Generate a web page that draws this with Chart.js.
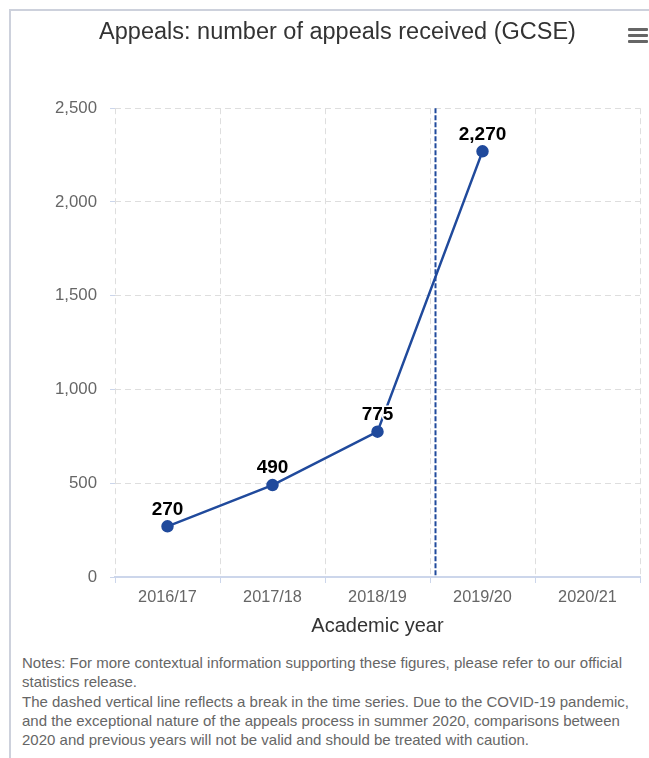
<!DOCTYPE html>
<html>
<head>
<meta charset="utf-8">
<script src="https://cdn.jsdelivr.net/npm/chart.js@4.4.1/dist/chart.umd.min.js"></script>
<style>
  body { margin: 0; background: #fff; font-family: "Liberation Sans", Arial, sans-serif; }
  #frame { position: absolute; left: 9px; top: 9px; width: 660px; height: 760px;
           border-top: 2px solid #cdd1dc; border-left: 2px solid #cdd1dc; }
  #wrap { position: absolute; left: 0; top: 0; width: 649px; height: 650px; }
  #menu { position: absolute; left: 628px; top: 28px; width: 20px; }
  #menu div { height: 3px; background: #666; margin-bottom: 3px; border-radius: 1px; }
  #notes { position: absolute; left: 22px; top: 653px; width: 625px;
           font-size: 15px; line-height: 19.3px; color: #666; }
</style>
</head>
<body>
<div id="frame"></div>
<div id="wrap"><canvas id="chart"></canvas></div>
<div id="menu"><div></div><div></div><div></div></div>
<div id="notes">Notes: For more contextual information supporting these figures, please refer to our official statistics release.<br>The dashed vertical line reflects a break in the time series. Due to the COVID-19 pandemic, and the exceptional nature of the appeals process in summer 2020, comparisons between 2020 and previous years will not be valid and should be treated with caution.</div>
<script>
// data
const years = ["2016/17", "2017/18", "2018/19", "2019/20", "2020/21"];
const appeals = [270, 490, 775, 2270, null];
const yTicks = [0, 500, 1000, 1500, 2000, 2500];
const breakAt = 2.55; // position of the break line, in category units

const lineColor = "#204a9c";
const fam = "'Liberation Sans', Arial, sans-serif";

// labels above points + the dashed break line
const extras = {
  id: "extras",
  afterDatasetsDraw(chart) {
    const ctx = chart.ctx;
    const x = chart.scales.x;
    const area = chart.chartArea;
    // break line
    let bx = Math.round(x.getPixelForValue(breakAt)) + 0.5;
    ctx.save();
    ctx.strokeStyle = lineColor;
    ctx.lineWidth = 2;
    ctx.setLineDash([5, 2]);
    ctx.beginPath();
    ctx.moveTo(bx, area.top);
    ctx.lineTo(bx, area.bottom);
    ctx.stroke();
    ctx.restore();

    // value labels
    const meta = chart.getDatasetMeta(0);
    ctx.save();
    ctx.font = "bold 19px " + fam;
    ctx.textAlign = "center";
    ctx.textBaseline = "middle";
    ctx.lineJoin = "round";
    meta.data.forEach((pt, i) => {
      if (appeals[i] == null) return;
      let txt = appeals[i].toLocaleString("en-US");
      ctx.strokeStyle = "#fff";
      ctx.lineWidth = 3;
      ctx.strokeText(txt, pt.x, pt.y - 17);
      ctx.fillStyle = "#000";
      ctx.fillText(txt, pt.x, pt.y - 17);
    });
    ctx.restore();
  }
};

new Chart("chart", {
  type: "line",
  data: {
    labels: years,
    datasets: [{
      data: appeals,
      borderColor: lineColor,
      backgroundColor: lineColor,
      borderWidth: 2.5,
      pointRadius: 5,
      pointHoverRadius: 5,
      tension: 0,
      spanGaps: false
    }]
  },
  options: {
    responsive: true,
    maintainAspectRatio: false,
    animation: false,
    layout: { padding: { left: 35, right: 9, top: 0, bottom: 0 } },
    plugins: {
      legend: { display: false },
      tooltip: { enabled: false },
      title: {
        display: true,
        text: "Appeals: number of appeals received (GCSE)",
        color: "#333",
        font: { family: fam, size: 23.5, weight: "normal" },
        padding: { top: 18, bottom: 62 }
      }
    },
    scales: {
      x: {
        offset: true,
        grid: { offset: true, color: "#dedede", lineWidth: 1, tickLength: 6, tickColor: "#ccd6eb" },
        border: { display: true, color: "#ccd6eb", width: 2, dash: [6, 4] },
        ticks: { color: "#666", padding: 5, font: { family: fam, size: 16.3 } },
        title: {
          display: true,
          text: "Academic year",
          color: "#333",
          font: { family: fam, size: 20 },
          padding: { top: 0, bottom: 12 }
        },
        afterFit(scale) { scale.height = 73; }
      },
      y: {
        min: 0,
        max: 2500,
        afterBuildTicks(scale) { scale.ticks = yTicks.map(v => ({ value: v })); },
        grid: {
          color: ctx => (ctx.tick && ctx.tick.value === 0) ? "rgba(0,0,0,0)" : "#dedede",
          tickLength: 5,
          tickColor: "#ccd6eb"
        },
        border: { display: false, dash: [6, 4] },
        ticks: {
          color: "#666",
          padding: 13,
          font: { family: fam, size: 16.8 },
          callback: v => v.toLocaleString("en-US")
        },
        afterFit(scale) { scale.width = 80; }
      }
    }
  },
  plugins: [extras]
});
</script>
</body>
</html>
